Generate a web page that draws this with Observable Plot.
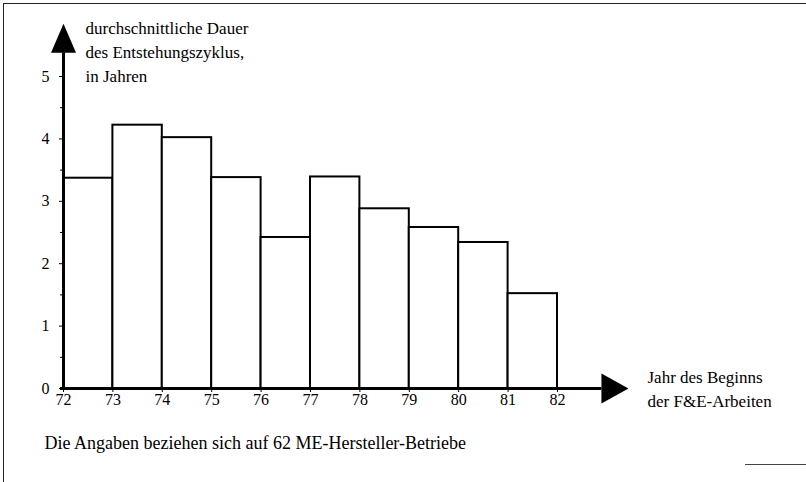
<!DOCTYPE html>
<html>
<head>
<meta charset="utf-8">
<script src="https://cdn.jsdelivr.net/npm/d3@7"></script>
<script src="https://cdn.jsdelivr.net/npm/@observablehq/plot@0.6"></script>
<style>
  html, body { margin: 0; padding: 0; background: #fff; }
  #wrap { position: relative; width: 806px; height: 482px; overflow: hidden; }
  #frameL { position: absolute; left: 3px; top: 3px; width: 0; height: 479px; border-left: 1.5px solid #222; }
  #frameT { position: absolute; left: 3px; top: 3px; width: 803px; height: 0; border-top: 1.5px solid #222; }
  #frameB { position: absolute; left: 745px; top: 464px; width: 61px; height: 0; border-top: 1.5px solid #444; }
  #chart { position: absolute; left: 0; top: 0; }
</style>
</head>
<body>
<div id="wrap">
  <div id="chart"></div>
  <div id="frameL"></div>
  <div id="frameT"></div>
  <div id="frameB"></div>
</div>
<script>
// Jahr des Beginns der F&E-Arbeiten (Klassenbeginn) und durchschnittliche Dauer in Jahren
const years = [72, 73, 74, 75, 76, 77, 78, 79, 80, 81];
const durations = [3.37, 4.22, 4.02, 3.38, 2.42, 3.39, 2.88, 2.58, 2.34, 1.52];
const xTicks = [72, 73, 74, 75, 76, 77, 78, 79, 80, 81, 82];
const yTicks = [0, 1, 2, 3, 4, 5];
const yMinorTicks = [0.5, 1.5, 2.5, 3.5, 4.5];
const yTitle = "durchschnittliche Dauer\ndes Entstehungszyklus,\nin Jahren";
const xTitle = "Jahr des Beginns\nder F&E-Arbeiten";
const caption = "Die Angaben beziehen sich auf 62 ME-Hersteller-Betriebe";

const FONT = "Liberation Serif";
const bars = years.map((y, i) => ({ start: y, end: y + 1, value: durations[i] }));

const arrowUp = {
  draw(ctx) {
    ctx.moveTo(0, -29);
    ctx.lineTo(12.5, 0);
    ctx.lineTo(-12.5, 0);
    ctx.closePath();
  }
};
const arrowRight = {
  draw(ctx) {
    ctx.moveTo(27, 0);
    ctx.lineTo(0, -15);
    ctx.lineTo(0, 15);
    ctx.closePath();
  }
};

const chart = Plot.plot({
  width: 806,
  height: 482,
  marginLeft: 63,
  marginRight: 249,
  marginTop: 76,
  marginBottom: 94,
  style: { fontFamily: FONT, fontSize: "16px", color: "#000", background: "transparent" },
  x: { domain: [72, 82] },
  y: { domain: [0, 5] },
  marks: [
    Plot.rectY(bars, { x1: "start", x2: "end", y: "value", fill: "white", stroke: "black", strokeWidth: 2 }),
    Plot.axisY({ ticks: yTicks, tickSize: 4, tickPadding: 10, label: null, fontSize: 16, fontFamily: FONT, tickFormat: d => String(d) }),
    Plot.axisY({ ticks: yMinorTicks, tickSize: 3, text: null, label: null }),
    Plot.axisX({ ticks: xTicks, tickSize: 4, tickPadding: 1, label: null, fontSize: 16, fontFamily: FONT, tickFormat: d => String(d) }),
    Plot.ruleX([72], { y1: -0.03, y2: 5.38, stroke: "black", strokeWidth: 3 }),
    Plot.ruleY([0], { x1: 71.94, x2: 82.9, stroke: "black", strokeWidth: 3 }),
    Plot.dot([{ x: 72, y: 5.38 }], { x: "x", y: "y", symbol: arrowUp, fill: "black", stroke: null, r: 10 }),
    Plot.dot([{ x: 82.89, y: 0 }], { x: "x", y: "y", symbol: arrowRight, fill: "black", stroke: null, r: 10 }),
    Plot.text([yTitle], { frameAnchor: "top-left", textAnchor: "start", lineAnchor: "top", dx: 22, dy: -60, lineHeight: 1.42, fontSize: 17, fontFamily: FONT, fill: "black" }),
    Plot.text([xTitle], { frameAnchor: "bottom-right", textAnchor: "start", lineAnchor: "top", dx: 90, dy: -22, lineHeight: 1.4, fontSize: 17, fontFamily: FONT, fill: "black" }),
    Plot.text([caption], { frameAnchor: "bottom-left", textAnchor: "start", lineAnchor: "middle", dx: -19, dy: 55, fontSize: 18, fontFamily: FONT, fill: "black" })
  ]
});
document.getElementById("chart").appendChild(chart);
</script>
</body>
</html>
